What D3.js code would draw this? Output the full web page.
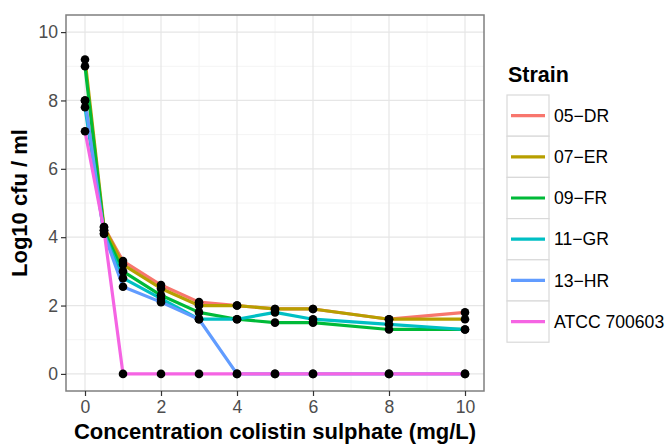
<!DOCTYPE html>
<html>
<head>
<meta charset="utf-8">
<script src="https://cdn.jsdelivr.net/npm/d3@7"></script>
<style>
  body { margin: 0; background: #fff; }
  text { font-family: "Liberation Sans", Arial, sans-serif; }
</style>
</head>
<body>
<div id="chart"></div>
<script>
var svgWidth = 666;
var svgHeight = 444;

var margin = { top: 15, right: 182, bottom: 53, left: 66 };
var width = svgWidth - margin.left - margin.right;
var height = svgHeight - margin.top - margin.bottom;

// concentrations (mg/L)
var concentrations = [0, 0.5, 1, 2, 3, 4, 5, 6, 8, 10];
var strains = ["05\u2212DR", "07\u2212ER", "09\u2212FR", "11\u2212GR", "13\u2212HR", "ATCC 700603"];
var colors = ["#F8766D", "#B79F00", "#00BA38", "#00BFC4", "#619CFF", "#F564E3"];

// log10 cfu/ml per strain
var dr05 = [8.0, 4.3, 3.3, 2.6, 2.1, 2.0, 1.9, 1.9, 1.6, 1.8];
var er07 = [9.2, 4.3, 3.2, 2.5, 2.0, 2.0, 1.9, 1.9, 1.6, 1.6];
var fr09 = [9.0, 4.2, 3.0, 2.3, 1.8, 1.6, 1.5, 1.5, 1.3, 1.3];
var gr11 = [7.8, 4.1, 2.8, 2.2, 1.6, 1.6, 1.8, 1.6, 1.45, 1.3];
var hr13 = [8.0, 4.1, 2.55, 2.1, 1.6, 0, 0, 0, 0, 0];
var atcc = [7.1, 4.2, 0, 0, 0, 0, 0, 0, 0, 0];

var xTicks = [0, 2, 4, 6, 8, 10];
var yTicks = [0, 2, 4, 6, 8, 10];

var seriesValues = [dr05, er07, fr09, gr11, hr13, atcc];
var series = strains.map(function(name, i) {
  return {
    name: name,
    color: colors[i],
    values: concentrations.map(function(c, j) { return { x: c, y: seriesValues[i][j] }; })
  };
});

var svg = d3.select("#chart")
  .append("svg")
  .attr("width", svgWidth)
  .attr("height", svgHeight);

var chartGroup = svg.append("g")
  .attr("transform", `translate(${margin.left}, ${margin.top})`);

var xScale = d3.scaleLinear().domain([-0.5, 10.5]).range([0, width]);
var yScale = d3.scaleLinear().domain([-0.5, 10.5]).range([height, 0]);

// grid: minor then major
var minorX = [1, 3, 5, 7, 9];
var minorY = [1, 3, 5, 7, 9];
chartGroup.selectAll(".minor-x").data(minorX).enter().append("line")
  .attr("x1", d => xScale(d)).attr("x2", d => xScale(d))
  .attr("y1", 0).attr("y2", height)
  .attr("stroke", "#f4f4f4").attr("stroke-width", 1);
chartGroup.selectAll(".minor-y").data(minorY).enter().append("line")
  .attr("y1", d => yScale(d)).attr("y2", d => yScale(d))
  .attr("x1", 0).attr("x2", width)
  .attr("stroke", "#f4f4f4").attr("stroke-width", 1);
chartGroup.selectAll(".major-x").data(xTicks).enter().append("line")
  .attr("x1", d => xScale(d)).attr("x2", d => xScale(d))
  .attr("y1", 0).attr("y2", height)
  .attr("stroke", "#e6e6e6").attr("stroke-width", 1.2);
chartGroup.selectAll(".major-y").data(yTicks).enter().append("line")
  .attr("y1", d => yScale(d)).attr("y2", d => yScale(d))
  .attr("x1", 0).attr("x2", width)
  .attr("stroke", "#e6e6e6").attr("stroke-width", 1.2);

// lines
var line = d3.line().x(d => xScale(d.x)).y(d => yScale(d.y));
chartGroup.selectAll(".strain-line").data(series).enter().append("path")
  .attr("d", d => line(d.values))
  .attr("fill", "none")
  .attr("stroke", d => d.color)
  .attr("stroke-width", 3.2)
  .attr("stroke-linejoin", "round");

// points
series.forEach(function(s) {
  chartGroup.selectAll(null).data(s.values).enter().append("circle")
    .attr("cx", d => xScale(d.x))
    .attr("cy", d => yScale(d.y))
    .attr("r", 4.3)
    .attr("fill", "#000");
});

// panel border
chartGroup.append("rect")
  .attr("width", width).attr("height", height)
  .attr("fill", "none").attr("stroke", "#7f7f7f").attr("stroke-width", 1.5);

// axes
var xAxis = chartGroup.append("g")
  .attr("transform", `translate(0, ${height})`)
  .call(d3.axisBottom(xScale).tickValues(xTicks).tickSize(5).tickPadding(5));
var yAxis = chartGroup.append("g")
  .call(d3.axisLeft(yScale).tickValues(yTicks).tickSize(5).tickPadding(3));
[xAxis, yAxis].forEach(function(a) {
  a.select(".domain").remove();
  a.selectAll(".tick line").attr("stroke", "#333").attr("stroke-width", 1.2);
  a.selectAll(".tick text").attr("fill", "#4d4d4d").style("font-size", "17.6px")
    .style("font-family", "Liberation Sans, Arial, sans-serif");
});

// axis titles
chartGroup.append("text")
  .attr("x", width / 2).attr("y", height + 48)
  .attr("text-anchor", "middle")
  .style("font-size", "22px").style("font-weight", "bold")
  .text("Concentration colistin sulphate (mg/L)");

chartGroup.append("text")
  .attr("transform", "rotate(-90)")
  .attr("x", -yScale(5)).attr("y", -39)
  .attr("text-anchor", "middle")
  .style("font-size", "22px").style("font-weight", "bold")
  .text("Log10 cfu / ml");

// legend
var legend = svg.append("g").attr("transform", "translate(507, 0)");
legend.append("text")
  .attr("x", 1).attr("y", 82)
  .style("font-size", "21.5px").style("font-weight", "bold")
  .text("Strain");
var keyH = 41.2;
var items = legend.selectAll(".item").data(series).enter().append("g")
  .attr("transform", (d, i) => `translate(0, ${95 + i * keyH})`);
items.append("rect")
  .attr("width", 42).attr("height", keyH)
  .attr("fill", "#fff").attr("stroke", "#d9d9d9").attr("stroke-width", 1.2);
items.append("line")
  .attr("x1", 4).attr("x2", 38)
  .attr("y1", keyH / 2).attr("y2", keyH / 2)
  .attr("stroke", d => d.color).attr("stroke-width", 3.2);
items.append("text")
  .attr("x", 47).attr("y", keyH / 2 + 6.2)
  .style("font-size", "17.6px").attr("fill", "#000")
  .text(d => d.name);
</script>
</body>
</html>
